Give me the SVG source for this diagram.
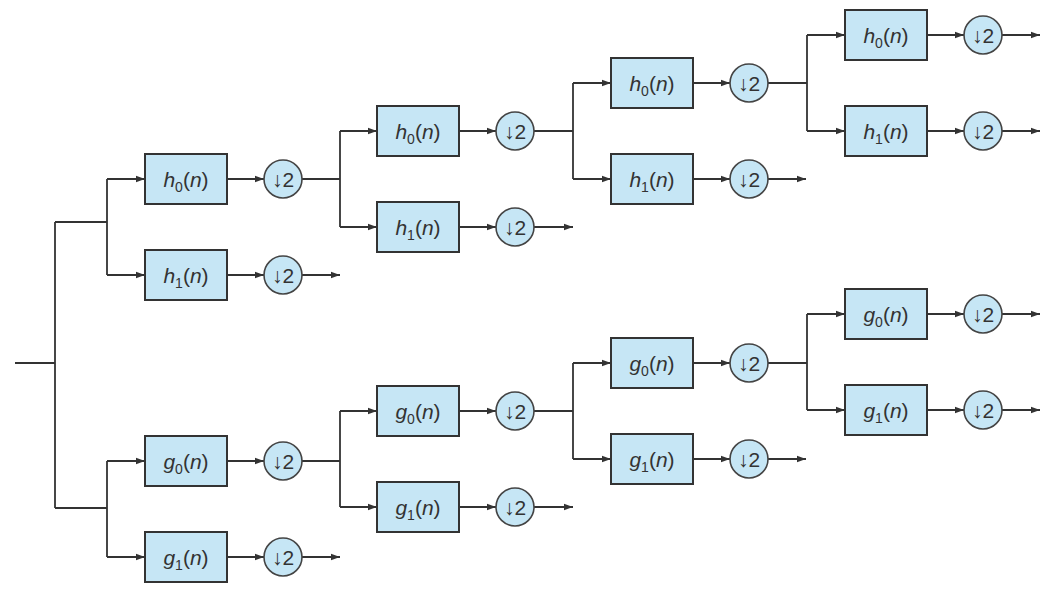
<svg xmlns="http://www.w3.org/2000/svg" width="1052" height="590" viewBox="0 0 1052 590">
<style>
.b{fill:#c6e6f5;stroke:#333;stroke-width:2}
.c{fill:#c6e6f5;stroke:#444;stroke-width:1.6}
.l{fill:none;stroke:#333;stroke-width:1.8}
.a{fill:none;stroke:#333;stroke-width:1.8;marker-end:url(#ar)}
text{font-family:"Liberation Sans",Arial,sans-serif;font-size:21px;fill:#333;text-anchor:middle}
.i{font-style:italic}
.s{font-size:14px}
</style>
<defs>
<marker id="ar" viewBox="0 0 10 10" refX="10" refY="5" markerWidth="5" markerHeight="5" markerUnits="strokeWidth" orient="auto"><path d="M0,1.5L10,5L0,8.5z" fill="#333"/></marker>
<g id="dn"><circle class="c" r="19"/><text y="8">↓2</text></g>
</defs>
<g id="connectors">
<path class="l" d="M15,363H55M55,222V508M55,222H107M55,508H107M107,179V275M107,461V557"/>
<path class="a" d="M107,179H145"/><path class="a" d="M107,275H145"/><path class="a" d="M107,461H145"/><path class="a" d="M107,557H145"/>
<path class="a" d="M227,179H264"/><path class="a" d="M227,275H264"/><path class="a" d="M227,461H264"/><path class="a" d="M227,557H264"/>
<path class="a" d="M302,275H340"/><path class="a" d="M302,557H340"/>
<path class="l" d="M302,179H340M340,131V227M302,461H340M340,411V507"/>
<path class="a" d="M340,131H377"/><path class="a" d="M340,227H377"/><path class="a" d="M340,411H377"/><path class="a" d="M340,507H377"/>
<path class="a" d="M459,131H496"/><path class="a" d="M459,227H496"/><path class="a" d="M459,411H496"/><path class="a" d="M459,507H496"/>
<path class="a" d="M534,227H573"/><path class="a" d="M534,507H573"/>
<path class="l" d="M534,131H573M573,83V179M534,411H573M573,363V459"/>
<path class="a" d="M573,83H611"/><path class="a" d="M573,179H611"/><path class="a" d="M573,363H611"/><path class="a" d="M573,459H611"/>
<path class="a" d="M693,83H730"/><path class="a" d="M693,179H730"/><path class="a" d="M693,363H730"/><path class="a" d="M693,459H730"/>
<path class="a" d="M768,179H806"/><path class="a" d="M768,459H806"/>
<path class="l" d="M768,83H807M807,35V131M768,363H807M807,314V410"/>
<path class="a" d="M807,35H845"/><path class="a" d="M807,131H845"/><path class="a" d="M807,314H845"/><path class="a" d="M807,410H845"/>
<path class="a" d="M927,35H964"/><path class="a" d="M927,131H964"/><path class="a" d="M927,314H964"/><path class="a" d="M927,410H964"/>
<path class="a" d="M1002,35H1040"/><path class="a" d="M1002,131H1040"/><path class="a" d="M1002,314H1040"/><path class="a" d="M1002,410H1040"/>
</g>
<g id="n1"><rect class="b" x="145" y="154" width="82" height="50"/><text x="186" y="187"><tspan class="i">h</tspan><tspan class="s" dy="5">0</tspan><tspan dy="-5">(</tspan><tspan class="i">n</tspan>)</text><use href="#dn" x="283" y="179"/></g>
<g id="n2"><rect class="b" x="145" y="250" width="82" height="50"/><text x="186" y="283"><tspan class="i">h</tspan><tspan class="s" dy="5">1</tspan><tspan dy="-5">(</tspan><tspan class="i">n</tspan>)</text><use href="#dn" x="283" y="275"/></g>
<g id="n3"><rect class="b" x="145" y="436" width="82" height="50"/><text x="186" y="469"><tspan class="i">g</tspan><tspan class="s" dy="5">0</tspan><tspan dy="-5">(</tspan><tspan class="i">n</tspan>)</text><use href="#dn" x="283" y="461"/></g>
<g id="n4"><rect class="b" x="145" y="532" width="82" height="50"/><text x="186" y="565"><tspan class="i">g</tspan><tspan class="s" dy="5">1</tspan><tspan dy="-5">(</tspan><tspan class="i">n</tspan>)</text><use href="#dn" x="283" y="557"/></g>
<g id="n5"><rect class="b" x="377" y="106" width="82" height="50"/><text x="418" y="139"><tspan class="i">h</tspan><tspan class="s" dy="5">0</tspan><tspan dy="-5">(</tspan><tspan class="i">n</tspan>)</text><use href="#dn" x="515" y="131"/></g>
<g id="n6"><rect class="b" x="377" y="202" width="82" height="50"/><text x="418" y="235"><tspan class="i">h</tspan><tspan class="s" dy="5">1</tspan><tspan dy="-5">(</tspan><tspan class="i">n</tspan>)</text><use href="#dn" x="515" y="227"/></g>
<g id="n7"><rect class="b" x="377" y="386" width="82" height="50"/><text x="418" y="419"><tspan class="i">g</tspan><tspan class="s" dy="5">0</tspan><tspan dy="-5">(</tspan><tspan class="i">n</tspan>)</text><use href="#dn" x="515" y="411"/></g>
<g id="n8"><rect class="b" x="377" y="482" width="82" height="50"/><text x="418" y="515"><tspan class="i">g</tspan><tspan class="s" dy="5">1</tspan><tspan dy="-5">(</tspan><tspan class="i">n</tspan>)</text><use href="#dn" x="515" y="507"/></g>
<g id="n9"><rect class="b" x="611" y="58" width="82" height="50"/><text x="652" y="91"><tspan class="i">h</tspan><tspan class="s" dy="5">0</tspan><tspan dy="-5">(</tspan><tspan class="i">n</tspan>)</text><use href="#dn" x="749" y="83"/></g>
<g id="n10"><rect class="b" x="611" y="154" width="82" height="50"/><text x="652" y="187"><tspan class="i">h</tspan><tspan class="s" dy="5">1</tspan><tspan dy="-5">(</tspan><tspan class="i">n</tspan>)</text><use href="#dn" x="749" y="179"/></g>
<g id="n11"><rect class="b" x="611" y="338" width="82" height="50"/><text x="652" y="371"><tspan class="i">g</tspan><tspan class="s" dy="5">0</tspan><tspan dy="-5">(</tspan><tspan class="i">n</tspan>)</text><use href="#dn" x="749" y="363"/></g>
<g id="n12"><rect class="b" x="611" y="434" width="82" height="50"/><text x="652" y="467"><tspan class="i">g</tspan><tspan class="s" dy="5">1</tspan><tspan dy="-5">(</tspan><tspan class="i">n</tspan>)</text><use href="#dn" x="749" y="459"/></g>
<g id="n13"><rect class="b" x="845" y="10" width="82" height="50"/><text x="886" y="43"><tspan class="i">h</tspan><tspan class="s" dy="5">0</tspan><tspan dy="-5">(</tspan><tspan class="i">n</tspan>)</text><use href="#dn" x="983" y="35"/></g>
<g id="n14"><rect class="b" x="845" y="106" width="82" height="50"/><text x="886" y="139"><tspan class="i">h</tspan><tspan class="s" dy="5">1</tspan><tspan dy="-5">(</tspan><tspan class="i">n</tspan>)</text><use href="#dn" x="983" y="131"/></g>
<g id="n15"><rect class="b" x="845" y="289" width="82" height="50"/><text x="886" y="322"><tspan class="i">g</tspan><tspan class="s" dy="5">0</tspan><tspan dy="-5">(</tspan><tspan class="i">n</tspan>)</text><use href="#dn" x="983" y="314"/></g>
<g id="n16"><rect class="b" x="845" y="385" width="82" height="50"/><text x="886" y="418"><tspan class="i">g</tspan><tspan class="s" dy="5">1</tspan><tspan dy="-5">(</tspan><tspan class="i">n</tspan>)</text><use href="#dn" x="983" y="410"/></g>
</svg>
